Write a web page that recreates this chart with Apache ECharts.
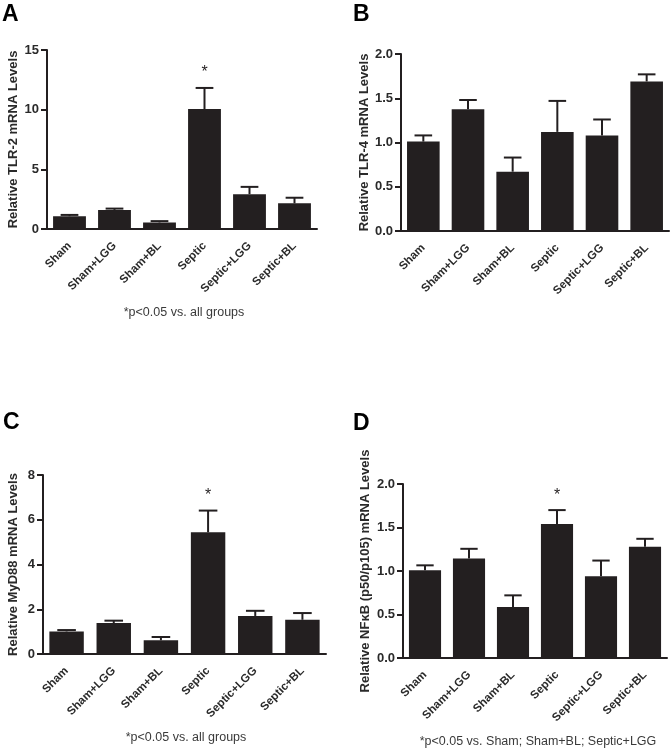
<!DOCTYPE html>
<html>
<head>
<meta charset="utf-8">
<script src="https://cdn.jsdelivr.net/npm/echarts@6/dist/echarts.min.js"></script>
<style>
html,body{margin:0;padding:0;background:#fff;}
#chart{width:672px;height:749px;}
</style>
</head>
<body>
<div id="chart"></div>
<script>
// ---- data ----
const categories = ['Sham', 'Sham+LGG', 'Sham+BL', 'Septic', 'Septic+LGG', 'Septic+BL'];

const tlr2Mean = [1.07, 1.60, 0.55, 10.05, 2.92, 2.15];
const tlr2Sem  = [0.11, 0.11, 0.11, 1.77, 0.61, 0.47];
const tlr2Sig  = [0, 0, 0, 1, 0, 0];

const tlr4Mean = [1.01, 1.375, 0.67, 1.12, 1.08, 1.69];
const tlr4Sem  = [0.07, 0.105, 0.16, 0.35, 0.18, 0.08];
const tlr4Sig  = [0, 0, 0, 0, 0, 0];

const myd88Mean = [1.01, 1.38, 0.61, 5.44, 1.70, 1.53];
const myd88Sem  = [0.06, 0.11, 0.15, 0.97, 0.23, 0.30];
const myd88Sig  = [0, 0, 0, 1, 0, 0];

const nfkbMean = [1.01, 1.145, 0.585, 1.54, 0.94, 1.28];
const nfkbSem  = [0.055, 0.11, 0.135, 0.16, 0.18, 0.09];
const nfkbSig  = [0, 0, 0, 1, 0, 0];

const yNames = ['Relative TLR-2 mRNA Levels', 'Relative TLR-4 mRNA Levels',
                'Relative MyD88 mRNA Levels', 'Relative NF\u03baB (p50/p105) mRNA Levels'];
const yMax = [15, 2, 8, 2];
const yInterval = [5, 0.5, 2, 0.5];
const yDecimals = [0, 1, 0, 1];
const panelLetters = ['A', 'B', 'C', 'D'];
const footnotes = ['*p<0.05 vs. all groups', '', '*p<0.05 vs. all groups', '*p<0.05 vs. Sham; Sham+BL; Septic+LGG'];

// ---- layout ----
const FONT = '"Liberation Sans", Arial, sans-serif';
const INK = '#231f20';
const TXT = '#2a2a2a';
const grids = [
  {left: 47, top: 50, width: 270, height: 179},
  {left: 401, top: 54, width: 268, height: 177},
  {left: 43, top: 475, width: 283, height: 179},
  {left: 403, top: 484, width: 264, height: 174}
];
const nameGaps = [27, 30, 23, 31];
const letterPos = [[2, 3], [353, 3], [3, 411], [353, 412]];
const footPos = [[184, 313], null, [186, 738], [538, 742]];

const means = [tlr2Mean, tlr4Mean, myd88Mean, nfkbMean];
const sems = [tlr2Sem, tlr4Sem, myd88Sem, nfkbSem];
const sigs = [tlr2Sig, tlr4Sig, myd88Sig, nfkbSig];

function errRender(params, api) {
  const x = api.value(0), m = api.value(1), u = api.value(2), s = api.value(3);
  const p0 = api.coord([x, m]);
  const p1 = api.coord([x, u]);
  const bw = api.size([1, 0])[0] * 0.73;
  const half = bw * 0.27;
  const children = [
    {type: 'line', shape: {x1: p0[0], y1: p0[1], x2: p1[0], y2: p1[1]}, style: {stroke: INK, lineWidth: 2}},
    {type: 'line', shape: {x1: p1[0] - half, y1: p1[1], x2: p1[0] + half, y2: p1[1]}, style: {stroke: INK, lineWidth: 2}}
  ];
  if (s) {
    children.push({type: 'text', style: {text: '*', x: p1[0], y: p1[1] - 7, align: 'center', verticalAlign: 'bottom',
      font: '16px ' + FONT, fill: INK}});
  }
  return {type: 'group', children};
}

const xAxis = [], yAxis = [], series = [], graphic = [];
for (let i = 0; i < 4; i++) {
  xAxis.push({
    type: 'category', gridIndex: i, data: categories,
    axisLine: {lineStyle: {color: INK, width: 2}},
    axisTick: {alignWithLabel: true, length: 5, lineStyle: {color: INK, width: 2}},
    axisLabel: {rotate: 45, margin: 15, fontFamily: FONT, fontWeight: 'bold', fontSize: 11.5, color: TXT, interval: 0}
  });
  yAxis.push({
    type: 'value', gridIndex: i, min: 0, max: yMax[i], interval: yInterval[i],
    name: yNames[i], nameLocation: 'middle', nameGap: nameGaps[i],
    nameTextStyle: {fontFamily: FONT, fontWeight: 'bold', fontSize: 13, color: TXT},
    axisLine: {show: true, lineStyle: {color: INK, width: 2}},
    axisTick: {show: true, length: 6, lineStyle: {color: INK, width: 2}},
    splitLine: {show: false},
    axisLabel: {margin: 8, fontFamily: FONT, fontWeight: 'bold', fontSize: 13, color: TXT,
      formatter: v => v.toFixed(yDecimals[i])}
  });
  series.push({
    type: 'bar', xAxisIndex: i, yAxisIndex: i, data: means[i], barWidth: '73%',
    itemStyle: {color: INK}, silent: true
  });
  series.push({
    type: 'custom', xAxisIndex: i, yAxisIndex: i, renderItem: errRender, silent: true,
    data: means[i].map((m, k) => [k, m, m + sems[i][k], sigs[i][k]]), z: 3
  });
  graphic.push({type: 'text', left: letterPos[i][0], top: letterPos[i][1],
    style: {text: panelLetters[i], font: 'bold 23px ' + FONT, fill: '#000'}});
  if (footPos[i]) {
    graphic.push({type: 'text', x: footPos[i][0], y: footPos[i][1],
      style: {text: footnotes[i], font: '12.5px ' + FONT, fill: '#3a3a3a', align: 'center', verticalAlign: 'middle'}});
  }
}

const chart = echarts.init(document.getElementById('chart'), null, {renderer: 'canvas'});
chart.setOption({
  animation: false,
  backgroundColor: '#fff',
  grid: grids,
  xAxis, yAxis, series, graphic
});
</script>
</body>
</html>
